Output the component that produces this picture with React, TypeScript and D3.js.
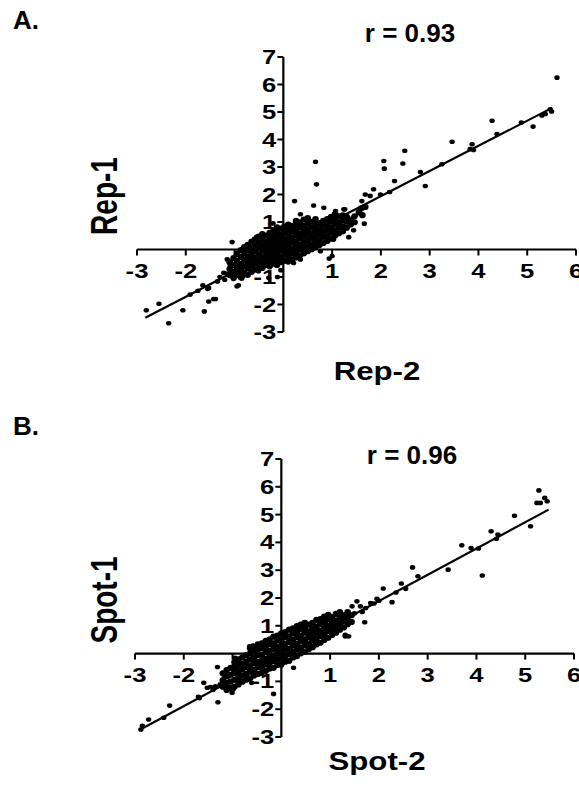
import React from "react";
import * as d3 from "d3";

const xTicks = [-3, -2, -1, 1, 2, 3, 4, 5, 6];
const yTicks = [-3, -2, -1, 1, 2, 3, 4, 5, 6, 7];

const outliersA: [number, number][] = [
  [5.61, 6.25], [5.47, 5.1], [5.5, 5.02], [5.37, 4.93], [5.3, 4.87], [4.28, 4.68], [4.88, 4.62],
  [5.12, 4.47], [4.38, 4.2], [3.46, 3.92], [3.87, 3.83], [3.83, 3.65], [3.9, 3.62], [3.25, 3.1],
  [2.81, 2.82], [2.91, 2.31], [2.49, 3.59], [2.45, 3.13], [2.06, 3.22], [2.07, 2.94], [2.28, 2.49],
  [2.18, 2.09], [1.99, 2.0], [1.85, 2.19], [1.68, 2.0], [1.78, 1.95], [1.61, 1.76], [1.65, 1.52],
  [1.58, 1.46], [1.66, 0.94], [1.24, 1.46], [1.34, 0.45], [1.44, 0.7], [1.03, 0.36], [0.83, 1.52],
  [0.62, 1.6], [0.66, 3.19], [0.68, 2.37], [1.0, -0.24], [0.76, -0.06], [1.07, 1.4], [1.26, 1.46],
  [0.23, 1.76], [0.35, 1.28], [-0.21, 0.95], [0.94, -0.33],
  [-2.81, -2.21], [-2.55, -1.97], [-2.35, -2.68], [-2.06, -2.21], [-1.91, -1.64], [-1.62, -2.25],
  [-1.53, -1.89], [-1.39, -1.8], [-1.55, -1.43], [-1.35, -1.16], [-1.22, -0.85], [-1.09, -0.61],
  [-1.05, 0.27], [-1.15, -0.36], [-0.95, -1.34], [-0.92, -1.3], [-0.95, -0.12], [-0.55, 0.46],
  [-0.54, -0.73], [-0.3, -1.03], [-1.53, -1.4], [-1.43, -1.8], [-1.12, -0.91], [-0.51, -0.79],
  [0.21, -0.49], [0.35, -0.36], [-1.75, -1.5], [-1.65, -1.3], [-1.3, -1.0], [-1.2, -1.1],
  [-1.0, -0.9], [-0.85, -1.05], [-0.12, -1.0], [-0.05, -0.75],
];

const coreA: [number, number[]][] = [
  [-1.10, [-0.93, -0.71, -0.46]],
  [-1.02, [-1.04, -0.82, -0.57, -0.31]],
  [-0.95, [-0.88, -0.66, -0.41, -0.17]],
  [-0.87, [-1.01, -0.76, -0.52, -0.27, -0.02]],
  [-0.80, [-0.86, -0.61, -0.37, -0.12, 0.09]],
  [-0.73, [-0.92, -0.69, -0.47, -0.26, -0.03, 0.17]],
  [-0.65, [-0.81, -0.59, -0.35, -0.15, 0.07, 0.29]],
  [-0.58, [-0.73, -0.51, -0.29, -0.07, 0.15, 0.37]],
  [-0.50, [-0.63, -0.41, -0.19, 0.03, 0.25, 0.47]],
  [-0.43, [-0.67, -0.46, -0.25, -0.02, 0.19, 0.39, 0.56]],
  [-0.35, [-0.56, -0.35, -0.12, 0.09, 0.28, 0.51]],
  [-0.28, [-0.61, -0.41, -0.21, 0.01, 0.21, 0.41, 0.61]],
  [-0.20, [-0.51, -0.31, -0.09, 0.11, 0.31, 0.49, 0.71]],
  [-0.13, [-0.56, -0.36, -0.16, 0.06, 0.24, 0.46, 0.64, 0.81]],
  [-0.06, [-0.46, -0.26, -0.04, 0.16, 0.36, 0.54, 0.76]],
  [0.02, [-0.41, -0.19, 0.01, 0.21, 0.39, 0.61, 0.83]],
  [0.10, [-0.44, -0.24, -0.06, 0.16, 0.34, 0.56, 0.74, 0.91]],
  [0.18, [-0.36, -0.14, 0.04, 0.26, 0.44, 0.66, 0.86]],
  [0.26, [-0.29, -0.11, 0.11, 0.29, 0.51, 0.69, 0.89, 1.04]],
  [0.34, [-0.21, 0.01, 0.19, 0.41, 0.59, 0.81, 0.99]],
  [0.42, [-0.14, 0.06, 0.24, 0.46, 0.64, 0.86, 1.09]],
  [0.50, [-0.06, 0.16, 0.34, 0.56, 0.74, 0.96, 1.14]],
  [0.58, [0.01, 0.19, 0.41, 0.59, 0.81, 1.01]],
  [0.66, [0.09, 0.31, 0.49, 0.71, 0.89, 1.11]],
  [0.74, [0.16, 0.34, 0.56, 0.74, 0.96]],
  [0.82, [0.24, 0.46, 0.64, 0.86, 1.04]],
  [0.90, [0.31, 0.49, 0.71, 0.89, 1.11]],
  [0.98, [0.39, 0.61, 0.79, 1.01, 1.19]],
  [1.06, [0.51, 0.69, 0.91, 1.09, 1.29]],
  [1.14, [0.59, 0.81, 0.99, 1.21]],
  [1.22, [0.66, 0.84, 1.06, 1.24]],
  [1.30, [0.79, 1.01, 1.19]],
  [1.38, [0.91, 1.09]],
  [1.46, [0.99, 1.21]],
  [1.55, [1.35]], [1.60, [1.5]], [1.62, [1.25]], [1.68, [1.55]],
];

const fitA: [number, number][] = [[-2.83, -2.48], [5.51, 5.15]];

const outliersB: [number, number][] = [
  [5.28, 5.87], [5.24, 5.42], [5.31, 5.42], [5.4, 5.6], [5.45, 5.48], [4.78, 4.96], [5.11, 4.58],
  [4.3, 4.4], [4.44, 4.28], [4.41, 4.13], [3.7, 3.9], [3.89, 3.8], [4.04, 3.78], [4.12, 2.81],
  [3.42, 3.02], [2.69, 3.1], [2.8, 2.78], [2.46, 2.52], [2.55, 2.33], [2.27, 1.85], [2.09, 2.34],
  [1.96, 1.97], [1.9, 1.8], [1.83, 1.82], [1.73, 1.64], [1.71, 1.13], [1.55, 1.88], [1.45, 1.7],
  [1.38, 1.34], [1.21, 1.4], [1.24, 1.16], [1.31, 0.62], [1.38, 0.62], [1.11, 0.86], [0.97, 1.34],
  [0.9, 1.1], [0.66, 0.26], [0.49, 0.38], [0.62, 0.74], [0.76, 0.86], [0.83, 1.16], [1.31, 0.68],
  [1.0, 1.22], [1.62, 1.7], [1.5, 1.45], [1.66, 1.5], [2.0, 1.9], [2.35, 2.2],
  [-2.88, -2.73], [-2.85, -2.6], [-2.72, -2.37], [-2.41, -2.31], [-2.29, -1.87], [-1.68, -1.6],
  [-1.59, -1.05], [-1.52, -1.23], [-1.35, -1.18], [-1.3, -1.75], [-1.31, -0.48], [-1.2, -0.94],
  [-1.09, -0.82], [-1.13, -1.05], [-1.01, -1.41], [-0.95, -0.15], [-0.89, -1.05], [-0.78, -1.0],
  [-0.58, -0.34], [-0.16, -1.45], [0.25, -0.51], [-0.58, 0.29], [0.59, 0.26], [-0.65, 0.26],
  [-0.99, -0.58], [-0.61, -1.05], [-0.99, -1.29], [-1.45, -1.2], [-1.25, -1.1], [-1.4, -1.3],
  [-1.7, -1.55], [-1.1, -1.2],
];

const coreB: [number, number[]][] = [
  [-1.20, [-1.19, -0.96, -0.71]],
  [-1.12, [-1.31, -1.04, -0.81, -0.59]],
  [-1.04, [-1.24, -1.01, -0.76, -0.51]],
  [-0.96, [-1.19, -0.94, -0.71, -0.46, -0.31]],
  [-0.88, [-1.11, -0.87, -0.66, -0.41, -0.21]],
  [-0.80, [-1.01, -0.79, -0.57, -0.37, -0.14]],
  [-0.72, [-0.94, -0.73, -0.49, -0.29, -0.06]],
  [-0.64, [-0.89, -0.65, -0.45, -0.21, 0.01, 0.19]],
  [-0.56, [-0.79, -0.59, -0.35, -0.15, 0.09, 0.24]],
  [-0.48, [-0.73, -0.49, -0.29, -0.05, 0.15, 0.33]],
  [-0.40, [-0.69, -0.49, -0.25, -0.05, 0.19, 0.37]],
  [-0.32, [-0.63, -0.39, -0.19, 0.05, 0.25, 0.46]],
  [-0.24, [-0.54, -0.34, -0.1, 0.1, 0.34, 0.51]],
  [-0.16, [-0.51, -0.27, -0.07, 0.17, 0.37, 0.61]],
  [-0.08, [-0.41, -0.21, 0.03, 0.23, 0.47, 0.65]],
  [0.00, [-0.39, -0.15, 0.05, 0.29, 0.49, 0.73]],
  [0.08, [-0.29, -0.09, 0.15, 0.35, 0.59, 0.77]],
  [0.16, [-0.26, -0.02, 0.18, 0.42, 0.62, 0.86]],
  [0.24, [-0.14, 0.06, 0.3, 0.5, 0.74, 0.91]],
  [0.32, [-0.09, 0.15, 0.35, 0.59, 0.79, 0.99]],
  [0.40, [0.01, 0.21, 0.45, 0.65, 0.89, 1.04]],
  [0.48, [0.07, 0.31, 0.51, 0.75, 0.95, 1.11]],
  [0.56, [0.16, 0.36, 0.6, 0.8, 1.04]],
  [0.64, [0.23, 0.47, 0.67, 0.91, 1.11]],
  [0.72, [0.33, 0.53, 0.77, 0.97, 1.21]],
  [0.80, [0.39, 0.63, 0.83, 1.07, 1.24]],
  [0.88, [0.49, 0.69, 0.93, 1.13, 1.33]],
  [0.96, [0.57, 0.81, 1.01, 1.25, 1.39]],
  [1.04, [0.67, 0.87, 1.11, 1.31]],
  [1.12, [0.75, 0.99, 1.19, 1.43]],
  [1.20, [0.86, 1.06, 1.3, 1.49]],
  [1.28, [0.94, 1.18, 1.38]],
  [1.36, [1.06, 1.26, 1.49]],
  [1.44, [1.14, 1.38]],
];

const fitB: [number, number][] = [[-2.89, -2.73], [5.48, 5.18]];

const FONT = "'Liberation Sans', Arial, Helvetica, sans-serif";
const SX = 1.28;

type PanelProps = {
  letter: string;
  letterY: number;
  rText: string;
  rX: number;
  rY: number;
  xTitle: string;
  yTitle: string;
  xTitleY: number;
  yTitleCY: number;
  xPx: [number, number];
  yPx: [number, number];
  outliers: [number, number][];
  core: [number, number[]][];
  fit: [number, number][];
};

function Panel(p: PanelProps) {
  const x = d3.scaleLinear().domain([-3, 6]).range(p.xPx);
  const y = d3.scaleLinear().domain([-3, 7]).range(p.yPx);
  const x0 = x(0);
  const y0 = y(0);
  const corePts: [number, number][] = p.core.flatMap(([cx, ys]) =>
    ys.map((cy) => [cx, cy] as [number, number])
  );
  const line = d3
    .line<[number, number]>()
    .x((d) => x(d[0]))
    .y((d) => y(d[1]));
  return (
    <g fontFamily={FONT} fontWeight="bold" fill="#000">
      <text x={13} y={p.letterY} fontSize={26}>
        {p.letter}
      </text>
      <text transform={`translate(${p.rX},${p.rY}) scale(1.0,1)`} fontSize={26} textAnchor="middle">
        {p.rText}
      </text>
      <text transform={`translate(377,${p.xTitleY}) scale(1.2,1)`} fontSize={26} textAnchor="middle">
        {p.xTitle}
      </text>
      <text transform={`translate(117,${p.yTitleCY}) scale(1.3,1) rotate(-90)`} fontSize={28} textAnchor="middle">
        {p.yTitle}
      </text>
      {/* axes */}
      <line x1={x(-3)} x2={x(6)} y1={y0} y2={y0} stroke="#000" strokeWidth={2.2} />
      <line x1={x0} x2={x0} y1={y(7)} y2={y(-3)} stroke="#000" strokeWidth={2.2} />
      {xTicks.map((t) => (
        <g key={"xt" + t}>
          <line x1={x(t)} x2={x(t)} y1={y0} y2={y0 + 6} stroke="#000" strokeWidth={2} />
          <text transform={`translate(${x(t)},${y0 + 28}) scale(${SX},1)`} fontSize={20} textAnchor="middle">
            {t}
          </text>
        </g>
      ))}
      {yTicks.map((t) => (
        <g key={"yt" + t}>
          <line x1={x0 - 6} x2={x0} y1={y(t)} y2={y(t)} stroke="#000" strokeWidth={2} />
          <text transform={`translate(${x0 - 7},${y(t) + 7}) scale(${SX},1)`} fontSize={20} textAnchor="end">
            {t}
          </text>
        </g>
      ))}
      {corePts.map((d, i) => (
        <ellipse key={"c" + i} cx={x(d[0])} cy={y(d[1])} rx={3.3} ry={3.1} fill="#000" />
      ))}
      {p.outliers.map((d, i) => (
        <ellipse key={"o" + i} cx={x(d[0])} cy={y(d[1])} rx={2.7} ry={2.3} fill="#000" />
      ))}
      <path d={line(p.fit) || ""} stroke="#000" strokeWidth={2.2} fill="none" />
    </g>
  );
}

export default function App() {
  return (
    <svg width={579} height={787} style={{ position: "absolute", left: 0, top: 0, background: "#fff" }}>
      <rect width={579} height={787} fill="#fff" />
      <Panel
        letter="A."
        letterY={29}
        rText="r = 0.93"
        rX={410}
        rY={42}
        xTitle="Rep-2"
        yTitle="Rep-1"
        xTitleY={380}
        yTitleCY={196}
        xPx={[137, 576]}
        yPx={[332, 57]}
        outliers={outliersA}
        core={coreA}
        fit={fitA}
      />
      <Panel
        letter="B."
        letterY={435}
        rText="r = 0.96"
        rX={412}
        rY={464}
        xTitle="Spot-2"
        yTitle="Spot-1"
        xTitleY={770}
        yTitleCY={600}
        xPx={[135, 574]}
        yPx={[737, 459]}
        outliers={outliersB}
        core={coreB}
        fit={fitB}
      />
    </svg>
  );
}
